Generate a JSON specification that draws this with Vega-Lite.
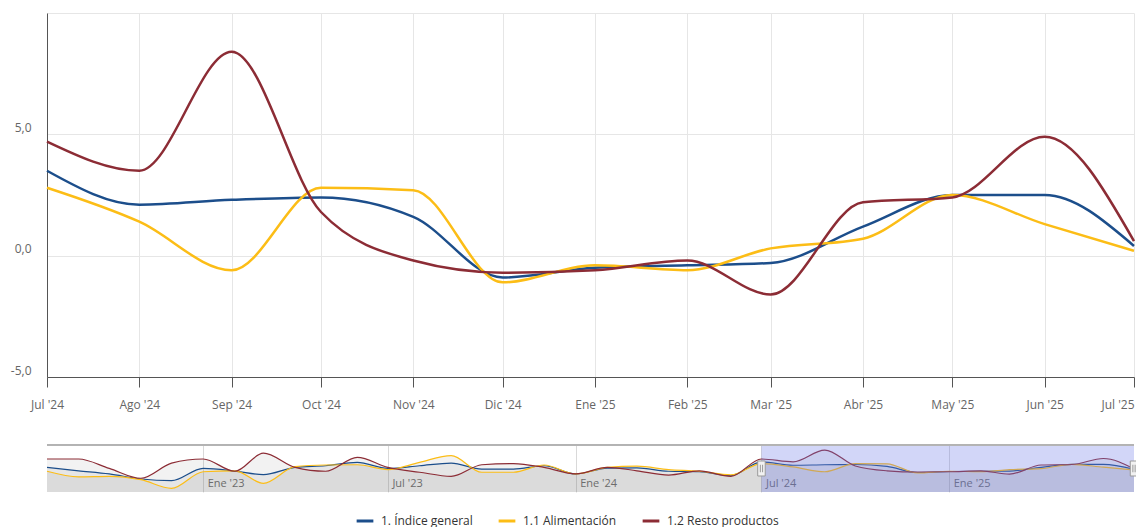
{
  "$schema": "https://vega.github.io/schema/vega-lite/v6.json",
  "padding": {"left": 10, "top": 13, "right": 0, "bottom": 0},
  "background": "white",
  "spacing": 34,
  "config": {
    "font": "Open Sans",
    "view": {"stroke": null},
    "axis": {"labelFont": "Open Sans", "labelFontSize": 12, "labelColor": "#666666", "gridColor": "#e6e6e6", "domainColor": "#555555", "tickColor": "#555555", "title": null},
    "legend": {"labelFont": "Open Sans"}
  },
  "datasets": {
    "ipc": [
      {"date": "2022-08-01", "serie": "1. Índice general", "value": 1.2},
      {"date": "2022-09-01", "serie": "1. Índice general", "value": -0.2},
      {"date": "2022-10-01", "serie": "1. Índice general", "value": -1.5},
      {"date": "2022-11-01", "serie": "1. Índice general", "value": -3.6},
      {"date": "2022-12-01", "serie": "1. Índice general", "value": -4.3},
      {"date": "2023-01-01", "serie": "1. Índice general", "value": 0.8},
      {"date": "2023-02-01", "serie": "1. Índice general", "value": -0.3},
      {"date": "2023-03-01", "serie": "1. Índice general", "value": -1.8},
      {"date": "2023-04-01", "serie": "1. Índice general", "value": 1.2},
      {"date": "2023-05-01", "serie": "1. Índice general", "value": 1.9},
      {"date": "2023-06-01", "serie": "1. Índice general", "value": 3.3},
      {"date": "2023-07-01", "serie": "1. Índice general", "value": 0.8},
      {"date": "2023-08-01", "serie": "1. Índice general", "value": 1.9},
      {"date": "2023-09-01", "serie": "1. Índice general", "value": 3.0},
      {"date": "2023-10-01", "serie": "1. Índice general", "value": 0.5},
      {"date": "2023-11-01", "serie": "1. Índice general", "value": 0.5},
      {"date": "2023-12-01", "serie": "1. Índice general", "value": 1.9},
      {"date": "2024-01-01", "serie": "1. Índice general", "value": -1.5},
      {"date": "2024-02-01", "serie": "1. Índice general", "value": 0.9},
      {"date": "2024-03-01", "serie": "1. Índice general", "value": 1.0},
      {"date": "2024-04-01", "serie": "1. Índice general", "value": -0.4},
      {"date": "2024-05-01", "serie": "1. Índice general", "value": -0.6},
      {"date": "2024-06-01", "serie": "1. Índice general", "value": -2.2},
      {"date": "2024-07-01", "serie": "1. Índice general", "value": 3.5},
      {"date": "2024-08-01", "serie": "1. Índice general", "value": 2.1},
      {"date": "2024-09-01", "serie": "1. Índice general", "value": 2.3},
      {"date": "2024-10-01", "serie": "1. Índice general", "value": 2.4},
      {"date": "2024-11-01", "serie": "1. Índice general", "value": 1.6},
      {"date": "2024-12-01", "serie": "1. Índice general", "value": -0.9},
      {"date": "2025-01-01", "serie": "1. Índice general", "value": -0.5},
      {"date": "2025-02-01", "serie": "1. Índice general", "value": -0.4},
      {"date": "2025-03-01", "serie": "1. Índice general", "value": -0.3},
      {"date": "2025-04-01", "serie": "1. Índice general", "value": 1.2},
      {"date": "2025-05-01", "serie": "1. Índice general", "value": 2.5},
      {"date": "2025-06-01", "serie": "1. Índice general", "value": 2.5},
      {"date": "2025-07-01", "serie": "1. Índice general", "value": 0.4},
      {"date": "2022-08-01", "serie": "1.1 Alimentación", "value": -0.4},
      {"date": "2022-09-01", "serie": "1.1 Alimentación", "value": -2.7},
      {"date": "2022-10-01", "serie": "1.1 Alimentación", "value": -2.5},
      {"date": "2022-11-01", "serie": "1.1 Alimentación", "value": -3.9},
      {"date": "2022-12-01", "serie": "1.1 Alimentación", "value": -7.5},
      {"date": "2023-01-01", "serie": "1.1 Alimentación", "value": -0.6},
      {"date": "2023-02-01", "serie": "1.1 Alimentación", "value": -0.2},
      {"date": "2023-03-01", "serie": "1.1 Alimentación", "value": -5.4},
      {"date": "2023-04-01", "serie": "1.1 Alimentación", "value": 1.5},
      {"date": "2023-05-01", "serie": "1.1 Alimentación", "value": 2.2},
      {"date": "2023-06-01", "serie": "1.1 Alimentación", "value": 2.3},
      {"date": "2023-07-01", "serie": "1.1 Alimentación", "value": 0.3},
      {"date": "2023-08-01", "serie": "1.1 Alimentación", "value": 3.3},
      {"date": "2023-09-01", "serie": "1.1 Alimentación", "value": 6.1},
      {"date": "2023-10-01", "serie": "1.1 Alimentación", "value": -0.8},
      {"date": "2023-11-01", "serie": "1.1 Alimentación", "value": -0.8},
      {"date": "2023-12-01", "serie": "1.1 Alimentación", "value": 2.2},
      {"date": "2024-01-01", "serie": "1.1 Alimentación", "value": -1.5},
      {"date": "2024-02-01", "serie": "1.1 Alimentación", "value": 1.2},
      {"date": "2024-03-01", "serie": "1.1 Alimentación", "value": 1.7},
      {"date": "2024-04-01", "serie": "1.1 Alimentación", "value": 0.3},
      {"date": "2024-05-01", "serie": "1.1 Alimentación", "value": -0.4},
      {"date": "2024-06-01", "serie": "1.1 Alimentación", "value": -1.9},
      {"date": "2024-07-01", "serie": "1.1 Alimentación", "value": 2.8},
      {"date": "2024-08-01", "serie": "1.1 Alimentación", "value": 1.4},
      {"date": "2024-09-01", "serie": "1.1 Alimentación", "value": -0.6},
      {"date": "2024-10-01", "serie": "1.1 Alimentación", "value": 2.8},
      {"date": "2024-11-01", "serie": "1.1 Alimentación", "value": 2.7},
      {"date": "2024-12-01", "serie": "1.1 Alimentación", "value": -1.1},
      {"date": "2025-01-01", "serie": "1.1 Alimentación", "value": -0.4},
      {"date": "2025-02-01", "serie": "1.1 Alimentación", "value": -0.6},
      {"date": "2025-03-01", "serie": "1.1 Alimentación", "value": 0.3},
      {"date": "2025-04-01", "serie": "1.1 Alimentación", "value": 0.7},
      {"date": "2025-05-01", "serie": "1.1 Alimentación", "value": 2.5},
      {"date": "2025-06-01", "serie": "1.1 Alimentación", "value": 1.3},
      {"date": "2025-07-01", "serie": "1.1 Alimentación", "value": 0.2},
      {"date": "2022-08-01", "serie": "1.2 Resto productos", "value": 4.7},
      {"date": "2022-09-01", "serie": "1.2 Resto productos", "value": 4.7},
      {"date": "2022-10-01", "serie": "1.2 Resto productos", "value": 0.8},
      {"date": "2022-11-01", "serie": "1.2 Resto productos", "value": -3.3},
      {"date": "2022-12-01", "serie": "1.2 Resto productos", "value": 3.0},
      {"date": "2023-01-01", "serie": "1.2 Resto productos", "value": 4.7},
      {"date": "2023-02-01", "serie": "1.2 Resto productos", "value": -0.4},
      {"date": "2023-03-01", "serie": "1.2 Resto productos", "value": 7.1},
      {"date": "2023-04-01", "serie": "1.2 Resto productos", "value": 1.2},
      {"date": "2023-05-01", "serie": "1.2 Resto productos", "value": -0.4},
      {"date": "2023-06-01", "serie": "1.2 Resto productos", "value": 5.4},
      {"date": "2023-07-01", "serie": "1.2 Resto productos", "value": 1.2},
      {"date": "2023-08-01", "serie": "1.2 Resto productos", "value": -0.8},
      {"date": "2023-09-01", "serie": "1.2 Resto productos", "value": -2.5},
      {"date": "2023-10-01", "serie": "1.2 Resto productos", "value": 2.3},
      {"date": "2023-11-01", "serie": "1.2 Resto productos", "value": 2.8},
      {"date": "2023-12-01", "serie": "1.2 Resto productos", "value": 1.2},
      {"date": "2024-01-01", "serie": "1.2 Resto productos", "value": -1.5},
      {"date": "2024-02-01", "serie": "1.2 Resto productos", "value": 1.2},
      {"date": "2024-03-01", "serie": "1.2 Resto productos", "value": -0.2},
      {"date": "2024-04-01", "serie": "1.2 Resto productos", "value": -2.0},
      {"date": "2024-05-01", "serie": "1.2 Resto productos", "value": -0.2},
      {"date": "2024-06-01", "serie": "1.2 Resto productos", "value": -2.5},
      {"date": "2024-07-01", "serie": "1.2 Resto productos", "value": 4.7},
      {"date": "2024-08-01", "serie": "1.2 Resto productos", "value": 3.5},
      {"date": "2024-09-01", "serie": "1.2 Resto productos", "value": 8.4},
      {"date": "2024-10-01", "serie": "1.2 Resto productos", "value": 1.8},
      {"date": "2024-11-01", "serie": "1.2 Resto productos", "value": -0.2},
      {"date": "2024-12-01", "serie": "1.2 Resto productos", "value": -0.7},
      {"date": "2025-01-01", "serie": "1.2 Resto productos", "value": -0.6},
      {"date": "2025-02-01", "serie": "1.2 Resto productos", "value": -0.2},
      {"date": "2025-03-01", "serie": "1.2 Resto productos", "value": -1.6},
      {"date": "2025-04-01", "serie": "1.2 Resto productos", "value": 2.2},
      {"date": "2025-05-01", "serie": "1.2 Resto productos", "value": 2.4},
      {"date": "2025-06-01", "serie": "1.2 Resto productos", "value": 4.9},
      {"date": "2025-07-01", "serie": "1.2 Resto productos", "value": 0.6}
    ],
    "seleccion": [{"inicio": "2024-07-01", "fin": "2025-07-01"}],
    "asas": [{"fecha": "2024-07-01"}, {"fecha": "2025-07-01"}]
  },
  "vconcat": [
    {
      "width": 1087,
      "height": 364,
      "data": {"name": "ipc"},
      "transform": [{"filter": "time(datum.date) >= utc(2024, 6, 1)"}],
      "mark": {"type": "line", "interpolate": "monotone", "strokeWidth": 2.5},
      "encoding": {
        "x": {
          "field": "date", "type": "temporal", "scale": {"type": "utc"},
          "axis": {
            "tickCount": {"interval": "month", "step": 1},
            "grid": true, "ticks": true, "tickSize": 10, "labelPadding": 12,
            "labelFlush": false, "labelOverlap": false,
            "labelAlign": {"condition": {"test": "datum.value >= utc(2025, 6, 1)", "value": "right"}, "value": "center"},
            "labelExpr": "['Ene','Feb','Mar','Abr','May','Jun','Jul','Ago','Sep','Oct','Nov','Dic'][utcmonth(datum.value)] + \" '\" + utcFormat(datum.value, '%y')"
          }
        },
        "y": {
          "field": "value", "type": "quantitative",
          "scale": {"domain": [-5, 10], "nice": false, "zero": false},
          "axis": {
            "values": [-5, 0, 5, 10], "grid": true, "ticks": false, "domain": true,
            "labelPadding": 16, "labelOffset": -7,
            "labelExpr": "datum.value == 10 ? '' : replace(replace(format(datum.value, '.1f'), '.', ','), '\u2212', '-')"
          }
        },
        "color": {
          "field": "serie", "type": "nominal",
          "scale": {"domain": ["1. Índice general", "1.1 Alimentación", "1.2 Resto productos"], "range": ["#1c4e8b", "#fcbd16", "#8c2c35"]},
          "legend": {"orient": "none", "legendX": 308, "legendY": 498, "direction": "horizontal", "title": null, "symbolType": "stroke", "symbolStrokeWidth": 3, "symbolSize": 280, "labelFontSize": 12, "labelColor": "#333333", "columnPadding": 19, "labelOffset": 6}
        }
      }
    },
    {
      "width": 1087,
      "height": 47,
      "layer": [
        {
          "data": {"name": "ipc"},
          "mark": {"type": "area", "interpolate": "monotone", "fill": "#7f7f7f", "fillOpacity": 0.1},
          "encoding": {
            "x": {
              "field": "date", "type": "temporal", "scale": {"type": "utc"},
              "axis": {
                "values": [
                  {"year": 2023, "month": 1, "date": 1, "utc": true},
                  {"year": 2023, "month": 7, "date": 1, "utc": true},
                  {"year": 2024, "month": 1, "date": 1, "utc": true},
                  {"year": 2024, "month": 7, "date": 1, "utc": true},
                  {"year": 2025, "month": 1, "date": 1, "utc": true}
                ],
                "grid": true, "gridColor": "#d9d9d9", "ticks": false, "domain": false,
                "labelAlign": "left", "labelOffset": 4, "labelPadding": -15, "labelFontSize": 11, "labelFlush": false,
                "labelExpr": "['Ene','Feb','Mar','Abr','May','Jun','Jul','Ago','Sep','Oct','Nov','Dic'][utcmonth(datum.value)] + \" '\" + utcFormat(datum.value, '%y')"
              }
            },
            "y": {"field": "value", "type": "quantitative", "scale": {"domain": [-9, 10.5], "nice": false, "zero": false}, "axis": null},
            "y2": {"datum": -9},
            "detail": {"field": "serie"}
          }
        },
        {
          "data": {"name": "ipc"},
          "mark": {"type": "line", "interpolate": "monotone", "strokeWidth": 1.2},
          "encoding": {
            "x": {"field": "date", "type": "temporal"},
            "y": {"field": "value", "type": "quantitative"},
            "color": {
              "field": "serie", "type": "nominal",
              "legend": {"orient": "none", "legendX": 308, "legendY": 498, "direction": "horizontal", "title": null, "symbolType": "stroke", "symbolStrokeWidth": 3, "symbolSize": 280, "labelFontSize": 12, "labelColor": "#333333", "columnPadding": 19, "labelOffset": 6}
            }
          }
        },
        {
          "data": {"name": "seleccion"},
          "mark": {"type": "rect", "fill": "#6a78e8", "opacity": 0.3},
          "encoding": {
            "x": {"field": "inicio", "type": "temporal"},
            "x2": {"field": "fin"}
          }
        },
        {
          "data": {"name": "ipc"},
          "mark": {"type": "rule", "color": "#b3b3b3", "strokeWidth": 1},
          "encoding": {"y": {"datum": 10.5}}
        },
        {
          "data": {"name": "asas"},
          "mark": {"type": "point", "shape": "M-0.5,-1H0.5V1H-0.5ZM-0.15,-0.5V0.5M0.15,-0.5V0.5", "size": 225, "filled": false, "fill": "#f2f2f2", "fillOpacity": 1, "stroke": "#999999", "strokeWidth": 1, "opacity": 1},
          "encoding": {
            "x": {"field": "fecha", "type": "temporal"},
            "y": {"datum": 0.75}
          }
        }
      ]
    }
  ]
}
